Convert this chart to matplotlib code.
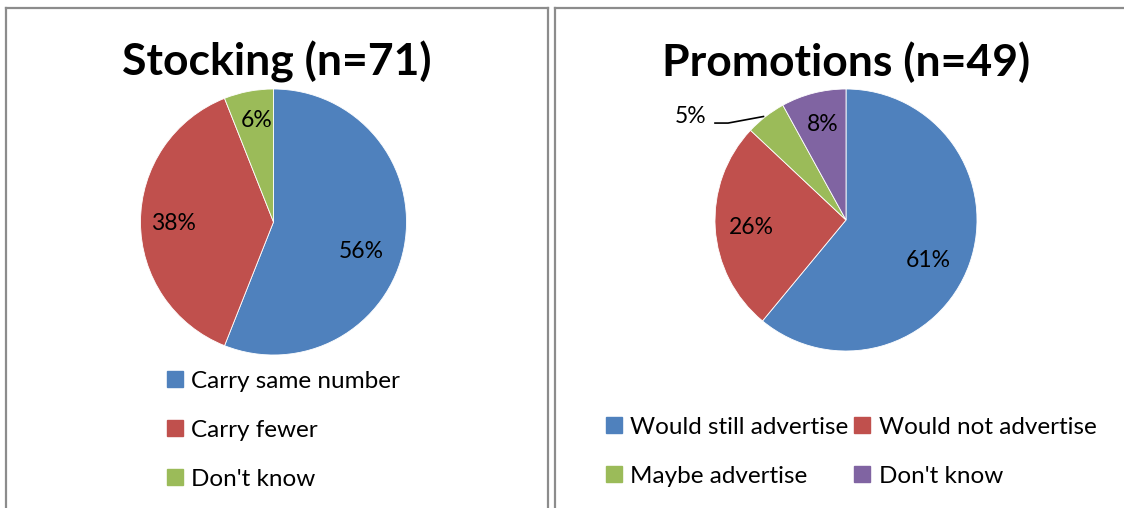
import matplotlib
matplotlib.use("Agg")
import matplotlib.pyplot as plt
from matplotlib.patches import Patch
from matplotlib.lines import Line2D

plt.rcParams['font.family'] = ['Lato', 'DejaVu Sans']

# Data
stock_title = "Stocking (n=71)"
stock_labels = ["Carry same number", "Carry fewer", "Don't know"]
stock_values = [56, 38, 6]
stock_colors = ["#4F81BD", "#C0504D", "#9BBB59"]

promo_title = "Promotions (n=49)"
promo_labels = ["Would still advertise", "Would not advertise", "Maybe advertise", "Don't know"]
promo_values = [61, 26, 5, 8]
promo_colors = ["#4F81BD", "#C0504D", "#9BBB59", "#8064A2"]

W, H = 1124, 508
fig = plt.figure(figsize=(W / 100, H / 100), dpi=100)
fig.patch.set_facecolor("white")

def fx(x):
    return x / W

def fy(y):
    return 1 - y / H

# Frames
frame_color = "#8c8c8c"
for xs, ys in [
    ([6, 6], [8, 520]), ([6, 548], [8, 8]), ([548, 548], [8, 520]),
    ([555, 555], [8, 520]), ([555, 1130], [8, 8]),
]:
    fig.add_artist(Line2D([fx(x) for x in xs], [fy(y) for y in ys],
                          color=frame_color, lw=1.6, transform=fig.transFigure))

def make_pie(cx, cy, r, values, colors, label_r):
    ax = fig.add_axes([fx(cx - r), fy(cy + r), 2 * r / W, 2 * r / H])
    wedges, texts = ax.pie(values, colors=colors, startangle=90, counterclock=False,
                           labels=[f"{v}%" for v in values], labeldistance=label_r,
                           wedgeprops=dict(linewidth=0.6, edgecolor="white"),
                           textprops=dict(fontsize=16.5, color="black", ha="center", va="center"))
    ax.set_xlim(-1, 1)
    ax.set_ylim(-1, 1)
    ax.set_aspect("auto")
    return ax, wedges, texts

# Left pie
ax1, w1, t1 = make_pie(273.5, 222, 133, stock_values, stock_colors, 0.68)
t1[0].set_position((0.66, -0.22))
t1[1].set_position((-0.75, -0.01))
t1[2].set_position((-0.13, 0.76))
fig.text(fx(277), fy(62), stock_title, ha="center", va="center",
         fontsize=32, fontweight="bold")

# Right pie
ax2, w2, t2 = make_pie(846, 220, 131, promo_values, promo_colors, 0.68)
t2[0].set_position((0.63, -0.31))
t2[1].set_position((-0.72, -0.06))
t2[2].set_position((-1.19, 0.79))
ax2.plot([-1.0, -0.90, -0.63], [0.74, 0.74, 0.79], color="black", lw=1.2, clip_on=False)
t2[3].set_position((-0.18, 0.73))
fig.text(fx(846), fy(62), promo_title, ha="center", va="center",
         fontsize=32, fontweight="bold")

# Legends
leg1 = fig.legend(handles=[Patch(color=c, label=l) for c, l in zip(stock_colors, stock_labels)],
                  loc="upper left", bbox_to_anchor=(fx(157), fy(361)), frameon=False,
                  fontsize=17.5, handlelength=0.65, handleheight=0.65, handletextpad=0.35,
                  labelspacing=1.15, borderaxespad=0)

order = [0, 2, 1, 3]
leg2 = fig.legend(handles=[Patch(color=promo_colors[i], label=promo_labels[i]) for i in order],
                  loc="upper left", bbox_to_anchor=(fx(596), fy(407)), frameon=False,
                  ncol=2, fontsize=17.5, handlelength=0.65, handleheight=0.65, handletextpad=0.35,
                  labelspacing=1.15, columnspacing=0.25, borderaxespad=0)

fig.savefig("out.png", dpi=100, facecolor="white")
